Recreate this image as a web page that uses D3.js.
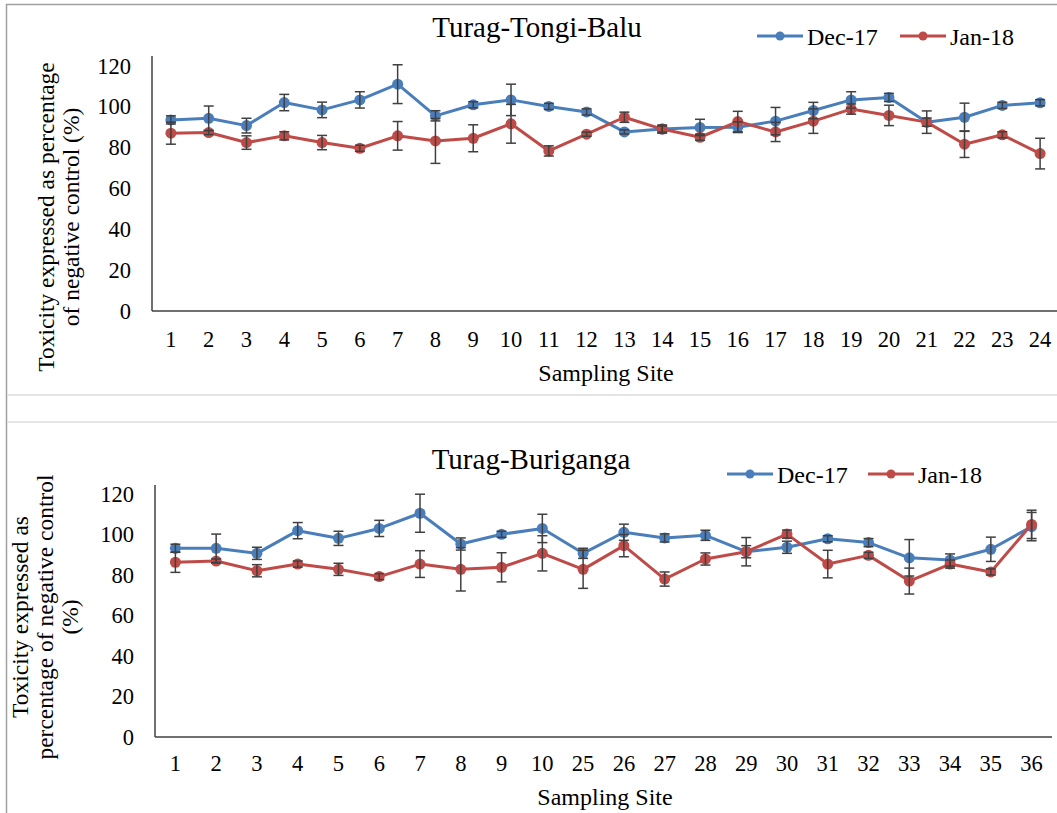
<!DOCTYPE html>
<html>
<head>
<meta charset="utf-8">
<script src="https://cdn.jsdelivr.net/npm/d3@7"></script>
<style>
  body { margin: 0; background: #fff; }
</style>
</head>
<body>
<div id="viz"></div>
<script>
// top panel: Turag-Tongi-Balu
const sitesA = ["1","2","3","4","5","6","7","8","9","10","11","12","13","14","15","16","17","18","19","20","21","22","23","24"];
const decA = [93.6, 94.4, 90.8, 102.1, 98.5, 103.4, 111.1, 95.6, 101.0, 103.4, 100.2, 97.5, 87.7, 89.1, 89.9, 90.0, 93.0, 98.2, 103.4, 104.6, 92.5, 94.9, 100.7, 102.0];
const decErrA = [2, 6, 3.6, 4, 3.8, 4, 9.5, 2.5, 1.5, 7.7, 1.5, 1.5, 1, 1.5, 4, 2.6, 6.7, 4, 4, 2, 2, 6.9, 1.5, 1.5];
const janA = [87.1, 87.4, 82.5, 85.8, 82.5, 79.7, 85.8, 83.3, 84.6, 91.7, 78.4, 86.6, 94.9, 89.1, 85.1, 92.8, 87.7, 93.0, 98.9, 95.8, 92.5, 81.7, 86.3, 77.1];
const janErrA = [5.4, 1, 3.3, 2, 3.5, 1.5, 7, 11, 6.6, 9.5, 2.5, 1, 2.5, 2, 1.5, 5, 4.7, 6, 2.5, 5, 5.5, 6.5, 1.5, 7.5];

// bottom panel: Turag-Buriganga
const sitesB = ["1","2","3","4","5","6","7","8","9","10","25","26","27","28","29","30","31","32","33","34","35","36"];
const decB = [93.2, 93.2, 90.7, 101.9, 98.1, 103.0, 110.5, 95.3, 100.1, 103.0, 90.7, 101.1, 98.3, 99.6, 91.5, 93.7, 97.9, 96.0, 88.5, 87.4, 92.7, 103.9];
const decErrB = [2, 7, 3, 4, 3.5, 4, 9.4, 3, 1.5, 7, 2.5, 4, 2, 2.5, 3, 3, 1.5, 2, 9, 3, 6, 7];
const janB = [86.3, 86.9, 82.1, 85.4, 82.8, 79.2, 85.4, 82.8, 83.8, 90.7, 82.8, 94.5, 78.0, 87.9, 91.5, 100.2, 85.4, 89.7, 77.0, 85.4, 81.5, 105.0];
const janErrB = [5, 1, 3, 1.5, 3, 1.5, 6.6, 10.7, 7.2, 8.7, 9.4, 5.5, 3.5, 3, 7, 2, 6.8, 1.5, 6.4, 2, 1.5, 7];

const yTicks = [0, 20, 40, 60, 80, 100, 120];
const seriesNames = ["Dec-17", "Jan-18"];
const colors = ["#4a7ebb", "#be4b48"];

const width = 1057, height = 813;
const serif = "'Liberation Serif', 'Times New Roman', Times, serif";

const svg = d3.select("#viz").append("svg")
    .attr("width", width)
    .attr("height", height)
    .style("font-family", serif);

// frame lines
svg.append("line").attr("x1", 6).attr("x2", width).attr("y1", 4.5).attr("y2", 4.5)
    .attr("stroke", "#a0a0a0").attr("stroke-width", 1.5);
svg.append("line").attr("x1", 6.5).attr("x2", 6.5).attr("y1", 4).attr("y2", height)
    .attr("stroke", "#a0a0a0").attr("stroke-width", 1.5);
[395, 422].forEach(y => {
    svg.append("line").attr("x1", 7).attr("x2", width).attr("y1", y).attr("y2", y)
        .attr("stroke", "#dcdcdc").attr("stroke-width", 1.5);
});

function txt(sel, size) {
    return sel.style("font-family", serif).style("font-size", size + "px").style("fill", "#000");
}

function drawPanel(p) {
    const g = svg.append("g");

    const x = d3.scaleBand().domain(p.sites).range([p.left, p.right]);
    const y = d3.scaleLinear().domain([0, 120]).range([p.bottom, p.top]);

    // axes lines
    g.append("line").attr("x1", p.left).attr("x2", p.left)
        .attr("y1", p.bottom).attr("y2", p.axisTop)
        .attr("stroke", "#404040").attr("stroke-width", 1.5);
    g.append("line").attr("x1", p.left).attr("x2", p.axisRight)
        .attr("y1", p.bottom).attr("y2", p.bottom)
        .attr("stroke", "#404040").attr("stroke-width", 1.5);

    txt(g.selectAll(".ytick")
        .data(yTicks)
        .join("text")
            .attr("class", "ytick")
            .attr("x", p.yLabelX)
            .attr("y", d => y(d) + 7.5)
            .style("text-anchor", "end")
            .text(d => d), 22.5);

    txt(g.selectAll(".xtick")
        .data(p.sites)
        .join("text")
            .attr("class", "xtick")
            .attr("x", d => x(d) + x.bandwidth() / 2)
            .attr("y", p.xLabelY)
            .style("text-anchor", "middle")
            .text(d => d), 22.5);

    txt(g.append("text")
        .attr("x", p.xTitleX).attr("y", p.xTitleY)
        .style("text-anchor", "middle")
        .text("Sampling Site"), 24);

    p.yTitle.forEach((line, i) => {
        txt(g.append("text")
            .attr("transform", `translate(${p.yTitleX + i * 25},${p.yTitleY}) rotate(-90)`)
            .style("text-anchor", "middle")
            .text(line), 23.5);
    });

    txt(g.append("text")
        .attr("x", p.titleX).attr("y", p.titleY)
        .style("text-anchor", "middle")
        .text(p.title), 29);

    const cx = d => x(d) + x.bandwidth() / 2;
    const line = d3.line().x(d => cx(d.site)).y(d => y(d.v));

    const series = p.series.map((s, k) => s.values.map((v, i) => ({ site: p.sites[i], v, e: s.errs[i], k })));

    series.forEach((pts, k) => {
        g.append("path")
            .datum(pts)
            .attr("fill", "none")
            .attr("stroke", colors[k])
            .attr("stroke-width", 3)
            .attr("stroke-linejoin", "round")
            .attr("d", line);
        g.selectAll(".dot" + k)
            .data(pts)
            .join("circle")
                .attr("class", "dot" + k)
                .attr("cx", d => cx(d.site))
                .attr("cy", d => y(d.v))
                .attr("r", 5.5)
                .attr("fill", colors[k]);
    });

    // error bars
    series.forEach(pts => {
        const eb = g.selectAll(null).data(pts).join("g").attr("stroke", "#404040").attr("stroke-width", 1.5);
        eb.append("line")
            .attr("x1", d => cx(d.site)).attr("x2", d => cx(d.site))
            .attr("y1", d => y(d.v - d.e)).attr("y2", d => y(d.v + d.e));
        eb.append("line")
            .attr("x1", d => cx(d.site) - 5).attr("x2", d => cx(d.site) + 5)
            .attr("y1", d => y(d.v + d.e)).attr("y2", d => y(d.v + d.e));
        eb.append("line")
            .attr("x1", d => cx(d.site) - 5).attr("x2", d => cx(d.site) + 5)
            .attr("y1", d => y(d.v - d.e)).attr("y2", d => y(d.v - d.e));
    });

    // legend
    seriesNames.forEach((name, k) => {
        const lx = p.legendX[k];
        g.append("line").attr("x1", lx).attr("x2", lx + 46)
            .attr("y1", p.legendY).attr("y2", p.legendY)
            .attr("stroke", colors[k]).attr("stroke-width", 3);
        g.append("circle").attr("cx", lx + 23).attr("cy", p.legendY).attr("r", 4.5)
            .attr("fill", colors[k]);
        txt(g.append("text").attr("x", lx + 50).attr("y", p.legendY + 8.5)
            .text(name), 24);
    });
}

drawPanel({
    sites: sitesA,
    series: [{ values: decA, errs: decErrA }, { values: janA, errs: janErrA }],
    left: 152, right: 1059, axisRight: 1057, bottom: 311, top: 66, axisTop: 56,
    yLabelX: 131, xLabelY: 347, xTitleX: 606, xTitleY: 381,
    yTitle: ["Toxicity expressed as percentage", "of negative control (%)"],
    yTitleX: 54, yTitleY: 217,
    title: "Turag-Tongi-Balu", titleX: 537, titleY: 37,
    legendX: [757, 900], legendY: 36
});

drawPanel({
    sites: sitesB,
    series: [{ values: decB, errs: decErrB }, { values: janB, errs: janErrB }],
    left: 155, right: 1052, axisRight: 1052, bottom: 737, top: 494, axisTop: 485,
    yLabelX: 134, xLabelY: 771, xTitleX: 605, xTitleY: 805,
    yTitle: ["Toxicity expressed as", "percentage of negative control", "(%)"],
    yTitleX: 28, yTitleY: 617,
    title: "Turag-Buriganga", titleX: 531, titleY: 469,
    legendX: [727, 868], legendY: 474
});
</script>
</body>
</html>
